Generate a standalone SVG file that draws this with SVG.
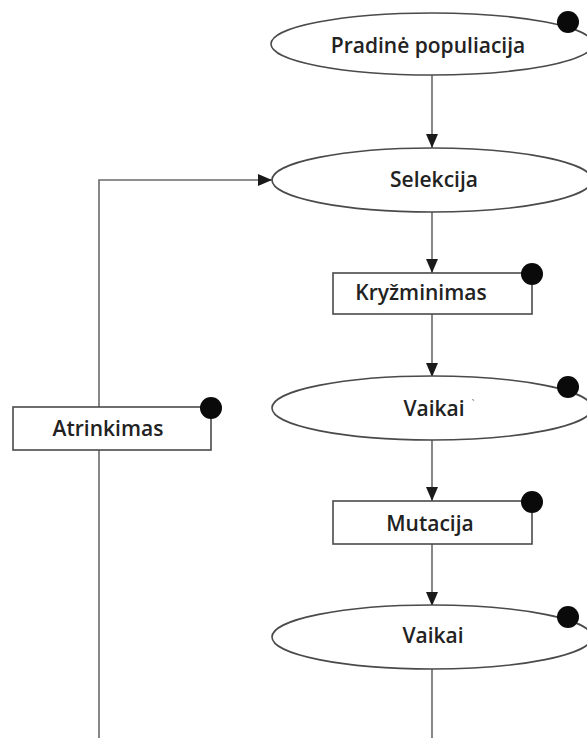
<svg xmlns="http://www.w3.org/2000/svg" width="587" height="738" viewBox="0 0 587 738">
  <defs>
    <marker id="arrow" markerWidth="14" markerHeight="12" refX="14" refY="6" orient="auto" markerUnits="userSpaceOnUse" viewBox="0 0 14 12">
      <path d="M0,0 L14,6 L0,12 Z" fill="#1a1a1a"/>
    </marker>
    <style>
      .shape { fill: #ffffff; stroke: #4a4a4a; stroke-width: 1.6; }
      .edge { fill: none; stroke: #6a6a6a; stroke-width: 1.6; }
      .dot { fill: #0a0a0a; }
      .label { font-family: "Open Sans", "Liberation Sans", sans-serif; font-weight: 600; font-size: 21px; fill: #222222; text-anchor: middle; }
    </style>
  </defs>
  <rect width="587" height="738" fill="#ffffff"/>

  <!-- connectors -->
  <g id="connectors">
    <line class="edge" x1="432" y1="75" x2="432" y2="148" marker-end="url(#arrow)"/>
    <line class="edge" x1="432" y1="212" x2="432" y2="273" marker-end="url(#arrow)"/>
    <line class="edge" x1="432" y1="314" x2="432" y2="377" marker-end="url(#arrow)"/>
    <line class="edge" x1="432" y1="440" x2="432" y2="501" marker-end="url(#arrow)"/>
    <line class="edge" x1="432" y1="544" x2="432" y2="606" marker-end="url(#arrow)"/>
    <line class="edge" x1="432" y1="669" x2="432" y2="738"/>
    <!-- feedback loop back to selection -->
    <polyline class="edge" points="99,738 99,180 272,180" marker-end="url(#arrow)"/>
  </g>

  <!-- nodes -->
  <g id="node-pradine">
    <ellipse class="shape" cx="432" cy="44" rx="161" ry="31"/>
    <circle class="dot" cx="568" cy="22" r="11"/>
    <text class="label" x="428" y="53">Pradinė populiacija</text>
  </g>

  <g id="node-selekcija">
    <ellipse class="shape" cx="432" cy="180" rx="160" ry="32"/>
    <text class="label" x="434" y="187">Selekcija</text>
  </g>

  <g id="node-kryzminimas">
    <rect class="shape" x="333" y="273" width="199" height="41"/>
    <circle class="dot" cx="532" cy="274" r="11"/>
    <text class="label" x="421" y="300">Kryžminimas</text>
  </g>

  <g id="node-vaikai-1">
    <ellipse class="shape" cx="432" cy="408" rx="160" ry="32"/>
    <circle class="dot" cx="568" cy="387" r="11"/>
    <text class="label" x="434" y="416">Vaikai</text>
    <text x="473" y="408" font-family="Open Sans, sans-serif" font-size="11" fill="#777777" text-anchor="middle">`</text>
  </g>

  <g id="node-mutacija">
    <rect class="shape" x="333" y="501" width="199" height="43"/>
    <circle class="dot" cx="532" cy="502" r="11"/>
    <text class="label" x="430" y="531">Mutacija</text>
  </g>

  <g id="node-vaikai-2">
    <ellipse class="shape" cx="432" cy="637" rx="160" ry="32"/>
    <circle class="dot" cx="568" cy="617" r="11"/>
    <text class="label" x="433" y="643">Vaikai</text>
  </g>

  <g id="node-atrinkimas">
    <rect class="shape" x="13" y="407" width="198" height="43"/>
    <circle class="dot" cx="211" cy="408" r="11"/>
    <text class="label" x="108" y="436">Atrinkimas</text>
  </g>
</svg>
